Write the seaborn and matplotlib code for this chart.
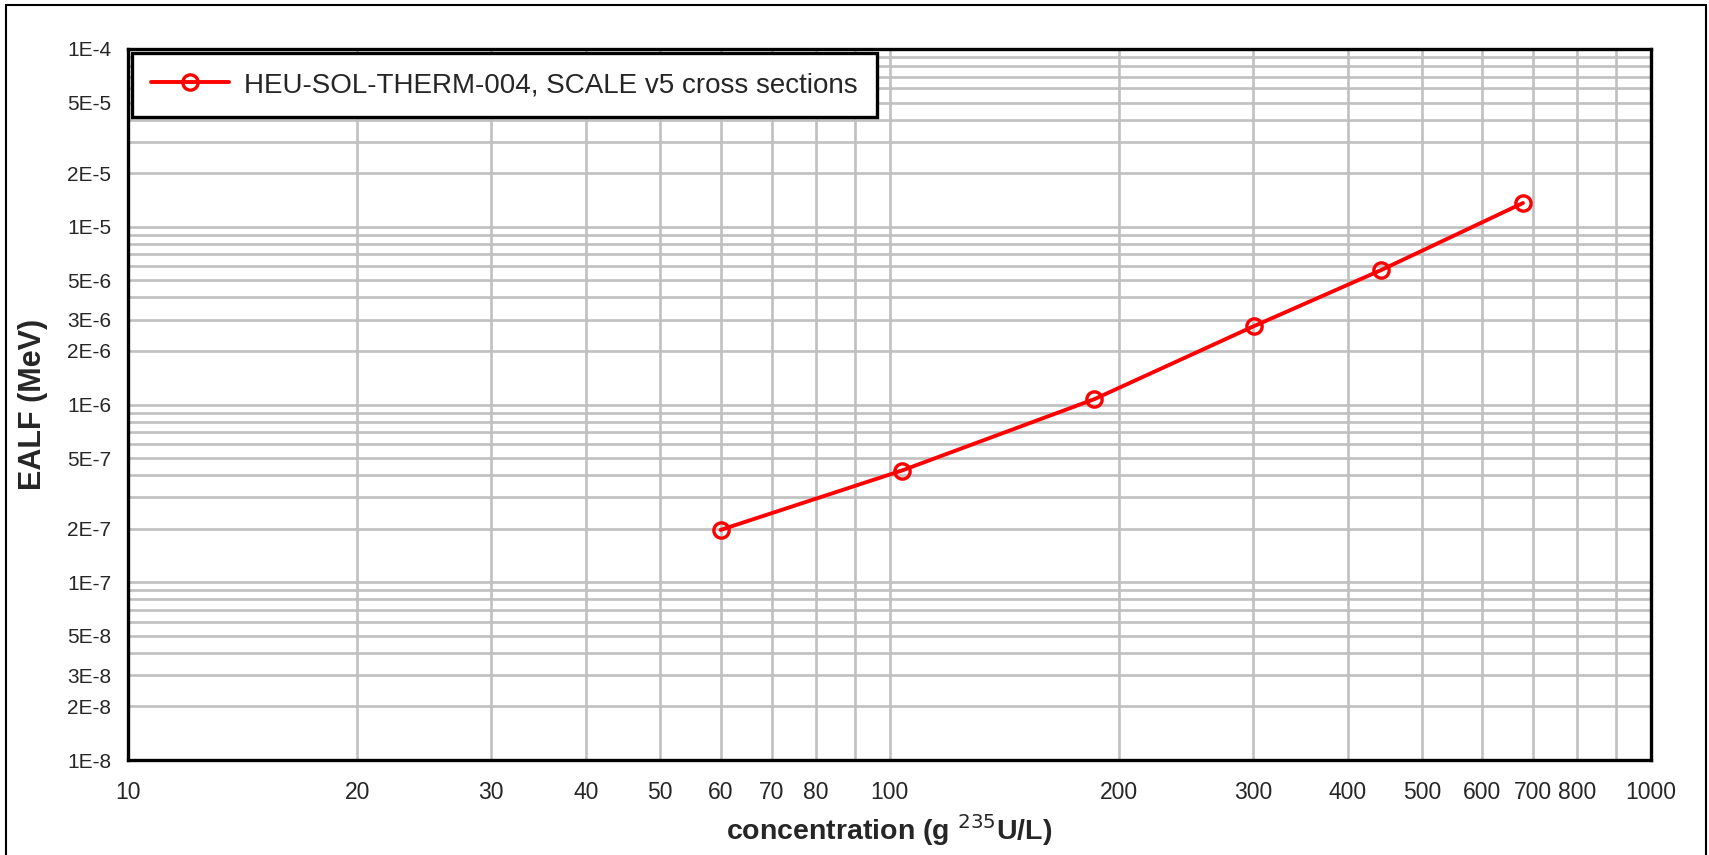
import numpy as np
import pandas as pd
import seaborn as sns
import matplotlib
matplotlib.use("Agg")
import matplotlib.pyplot as plt
from matplotlib import font_manager
from matplotlib.patches import Rectangle
from matplotlib.ticker import FixedLocator, NullFormatter, LogLocator

# ---- data ----
concentration = [60.0, 103.8, 185.6, 301.0, 442.0, 679.0]
ealf = [1.97e-7, 4.25e-7, 1.07e-6, 2.76e-6, 5.7e-6, 1.36e-5]
series_label = "HEU-SOL-THERM-004, SCALE v5 cross sections"

x_ticks = [10, 20, 30, 40, 50, 60, 70, 80, 100, 200, 300, 400, 500, 600, 700, 800, 1000]
x_tick_labels = ["10", "20", "30", "40", "50", "60", "70", "80", "100", "200", "300",
                 "400", "500", "600", "700", "800", "1000"]
y_ticks = [1e-8, 2e-8, 3e-8, 5e-8, 1e-7, 2e-7, 5e-7, 1e-6, 2e-6, 3e-6, 5e-6,
           1e-5, 2e-5, 5e-5, 1e-4]
y_tick_labels = ["1E-8", "2E-8", "3E-8", "5E-8", "1E-7", "2E-7", "5E-7", "1E-6",
                 "2E-6", "3E-6", "5E-6", "1E-5", "2E-5", "5E-5", "1E-4"]

df = pd.DataFrame({"concentration": concentration, "EALF": ealf})

sns.set_theme(style="white")
plt.rcParams["font.family"] = ["Liberation Sans", "DejaVu Sans"]

# narrow font for x axis texts if available
try:
    font_manager.findfont(font_manager.FontProperties(family="Liberation Sans Narrow"),
                          fallback_to_default=False)
    has_narrow = True
except Exception:
    has_narrow = False
narrow_family = ["Liberation Sans Narrow", "Liberation Sans", "DejaVu Sans"]
xtick_size = 20 if has_narrow else 16.5
xlabel_size = 22 if has_narrow else 20.5

fig = plt.figure(figsize=(17.09, 8.55), dpi=100)
ax = fig.add_axes([128 / 1709, 1 - 760 / 855, (1651 - 128) / 1709, (760 - 49) / 855])

ax.set_xscale("log")
ax.set_yscale("log")
ax.set_xlim(10, 1000)
ax.set_ylim(1e-8, 1e-4)

sns.lineplot(data=df, x="concentration", y="EALF", ax=ax, color="#ff0000",
             linewidth=2.8, marker="o", markersize=11, markerfacecolor="none",
             markeredgecolor="#ff0000", markeredgewidth=2.4, label=series_label)

# ticks: labels only
ax.xaxis.set_major_locator(FixedLocator(x_ticks))
ax.set_xticklabels(x_tick_labels)
ax.xaxis.set_minor_formatter(NullFormatter())
ax.yaxis.set_major_locator(FixedLocator(y_ticks))
ax.set_yticklabels(y_tick_labels)
ax.yaxis.set_minor_formatter(NullFormatter())
ax.xaxis.set_minor_locator(LogLocator(base=10, subs=np.arange(2, 10)))
ax.yaxis.set_minor_locator(LogLocator(base=10, subs=np.arange(2, 10)))
ax.grid(True, which="both", color="#c0c0c0", linewidth=1.9)
ax.set_axisbelow(True)
ax.tick_params(axis="both", which="both", length=0)
ax.tick_params(axis="y", pad=12, labelsize=15)
ax.tick_params(axis="x", pad=15, labelsize=xtick_size)
for lbl in ax.get_xticklabels():
    lbl.set_family(narrow_family)

ax.set_xlabel("concentration (g $^{235}$U/L)", fontsize=xlabel_size, fontweight="bold",
              labelpad=6, family=narrow_family)
ax.set_ylabel("EALF (MeV)", fontsize=22, fontweight="bold", labelpad=14)

for sp in ax.spines.values():
    sp.set_visible(True)
    sp.set_color("black")
    sp.set_linewidth(2.4)

leg = ax.legend(loc="upper left", fontsize=20, frameon=True, fancybox=False,
                borderaxespad=0.15, handlelength=2.8, handletextpad=0.55,
                borderpad=0.68, framealpha=1)
leg.get_frame().set_edgecolor("black")
leg.get_frame().set_linewidth(2.4)

# outer figure border
fig.patches.append(Rectangle((6 / 1709, -0.05), 1 - 9 / 1709, 1.05 - 5 / 855,
                             transform=fig.transFigure, fill=False,
                             edgecolor="black", linewidth=1.5))

fig.savefig("out.png", dpi=100)
